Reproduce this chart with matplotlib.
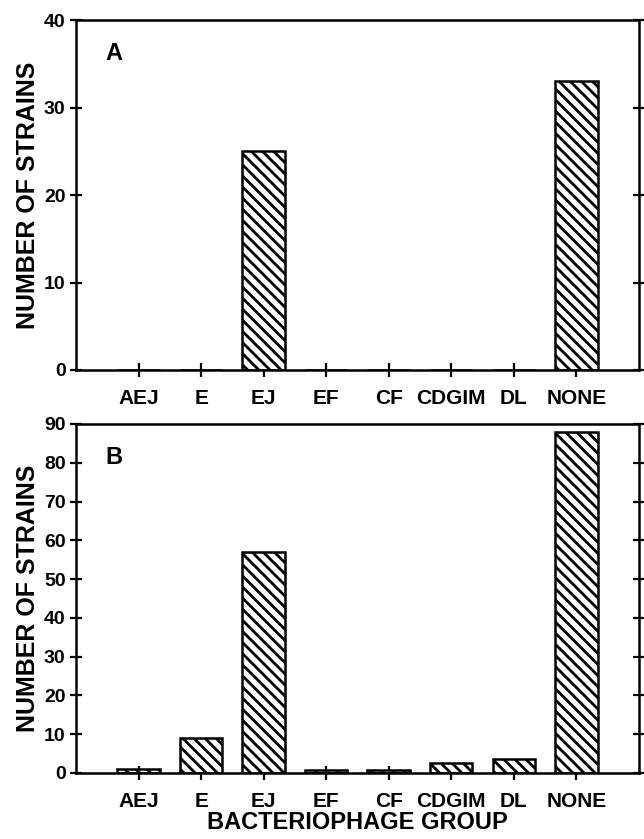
import matplotlib
matplotlib.use("Agg")
import matplotlib.pyplot as plt
import numpy as np

categories = ["AEJ", "E", "EJ", "EF", "CF", "CDGIM", "DL", "NONE"]
values_a = [0, 0, 25, 0, 0, 0, 0, 33]
values_b = [1, 9, 57, 0.8, 0.7, 2.5, 3.5, 88]
yticks_a = [0, 10, 20, 30, 40]
yticks_b = [0, 10, 20, 30, 40, 50, 60, 70, 80, 90]

plt.rcParams['font.family'] = ['Liberation Sans', 'DejaVu Sans']
plt.rcParams['font.weight'] = 'bold'
plt.rcParams['hatch.linewidth'] = 2.0
plt.rcParams['hatch.color'] = 'black'

fig = plt.figure(figsize=(6.44, 8.39), dpi=100)
ax_a = fig.add_axes([0.118, 0.559, 0.874, 0.417])
ax_b = fig.add_axes([0.118, 0.0787, 0.874, 0.416])

x = np.arange(1, len(categories) + 1)

def style(ax, vals, yticks, letter, ymax):
    ax.bar(x, vals, width=0.68, color='white', edgecolor='black',
           linewidth=1.8, hatch='\\\\\\', zorder=2)
    ax.set_xlim(0, 9)
    ax.set_ylim(0, ymax)
    ax.set_xticks(x)
    ax.set_xticklabels(categories, fontsize=15, fontweight='bold')
    ax.set_yticks(yticks)
    ax.set_yticklabels([str(t) for t in yticks], fontsize=14, fontweight='bold')
    for s in ax.spines.values():
        s.set_linewidth(1.8)
    ax.tick_params(axis='x', direction='inout', length=10, width=1.6, pad=9)
    ax.tick_params(axis='y', direction='inout', length=9, width=1.6, pad=3,
                   right=True, labelright=False)
    ax.set_ylabel("NUMBER OF STRAINS", fontsize=18, fontweight='bold', labelpad=3)
    ax.text(0.067, 0.905, letter, transform=ax.transAxes, fontsize=17,
            fontweight='bold', ha='center', va='center')

style(ax_a, values_a, yticks_a, "A", 40)
style(ax_b, values_b, yticks_b, "B", 90)
ax_b.set_xlabel("BACTERIOPHAGE GROUP", fontsize=17, fontweight='bold', labelpad=0)

fig.savefig("out.png", dpi=100)
